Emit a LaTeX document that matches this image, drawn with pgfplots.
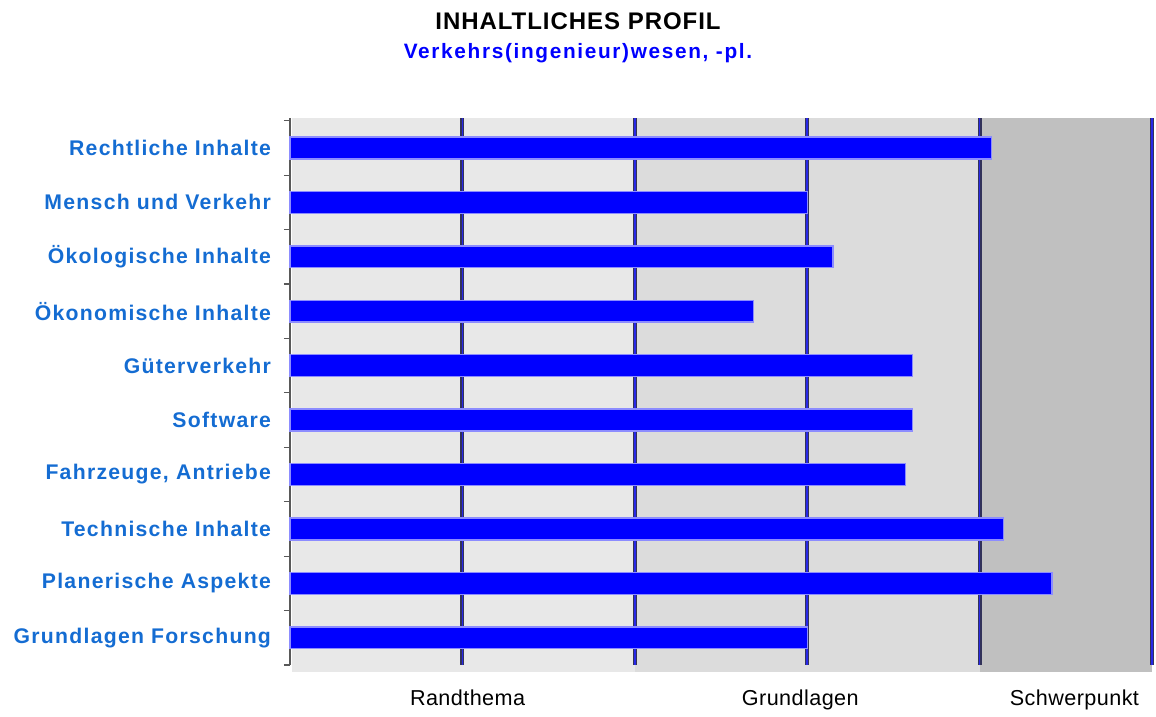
\documentclass[border=0pt]{standalone}
\usepackage{pgfplots}
\pgfplotsset{compat=1.18}
\usepackage{fontspec}
\setmainfont{Liberation Sans}
\newfontfamily\labfont[LetterSpace=6]{Liberation Sans}
\newfontfamily\subfont[LetterSpace=8]{Liberation Sans}
\newfontfamily\titfont[LetterSpace=4]{Liberation Sans}
\newfontfamily\botfont[LetterSpace=2]{Liberation Sans}
\definecolor{labblue}{RGB}{20,108,210}
\definecolor{band1}{RGB}{232,232,232}
\definecolor{band2}{RGB}{220,220,220}
\definecolor{band3}{RGB}{192,192,192}
\definecolor{gridedge}{RGB}{50,50,90}
\definecolor{gridmid}{RGB}{40,40,230}
\definecolor{barfill}{RGB}{0,0,255}
\definecolor{baredge}{RGB}{140,140,255}
\begin{document}
\begin{tikzpicture}
\path (-145pt,-25pt) rectangle (433pt,332.5pt);
\begin{axis}[
  at={(0,0)}, anchor=south west,
  scale only axis, width=431pt, height=273.5pt,
  xmin=0, xmax=5, ymin=-0.5, ymax=9.55,
  clip=false,
  axis y line*=left,
  axis x line*=bottom,
  x axis line style={draw=none},
  y axis line style={draw=gray!70!black, line width=0.6pt},
  xtick={1.03,2.96,4.55},
  xticklabels={Randthema,Grundlagen,Schwerpunkt},
  xticklabel style={font=\botfont\fontsize{10.8}{13}\selectfont, yshift=-9pt},
  major tick length=0pt,
  ytick={0,1,2,3,4,5,6,7,8,9},
  yticklabels={Grundlagen Forschung,Planerische Aspekte,Technische Inhalte,{Fahrzeuge, Antriebe},Software,Güterverkehr,Ökonomische Inhalte,Ökologische Inhalte,Mensch und Verkehr,Rechtliche Inhalte},
  yticklabel style={font=\labfont\bfseries\fontsize{10.6}{12}\selectfont, text=labblue, xshift=-6pt},
  minor ytick={-0.5,0.5,1.5,2.5,3.5,4.5,5.5,6.5,7.5,8.5,9.5},
  minor tick length=3pt,
  tick align=outside,
  minor tick style={draw=gray!70!black, line width=0.6pt},
  xbar, bar width=0.4,
]
% background bands
\fill[band1] (axis cs:0.01,-0.62) rectangle (axis cs:2,9.55);
\fill[band2] (axis cs:2,-0.62) rectangle (axis cs:4,9.55);
\fill[band3] (axis cs:4,-0.62) rectangle (axis cs:5,9.55);
% vertical lines
\pgfplotsinvokeforeach{1,2,3,4,5}{
  \draw[draw=gridedge, line width=2pt] (axis cs:#1,-0.5) -- (axis cs:#1,9.55);
  \draw[draw=gridmid, line width=0.8pt] (axis cs:#1,-0.5) -- (axis cs:#1,9.55);
}
\addplot[fill=barfill, draw=baredge, line width=0.7pt] coordinates {
  (3.00,0) (4.42,1) (4.14,2) (3.57,3) (3.61,4) (3.61,5) (2.69,6) (3.15,7) (3.00,8) (4.07,9)
};
\end{axis}
\node[font=\titfont\bfseries\fontsize{12}{14}\selectfont] at (144pt,322pt) {INHALTLICHES PROFIL};
\node[font=\bfseries\fontsize{10.4}{12}\selectfont, text=barfill] at (144pt,306pt) {\subfont Verkehrs(ingenieur)wesen, -pl.};
\end{tikzpicture}
\end{document}
